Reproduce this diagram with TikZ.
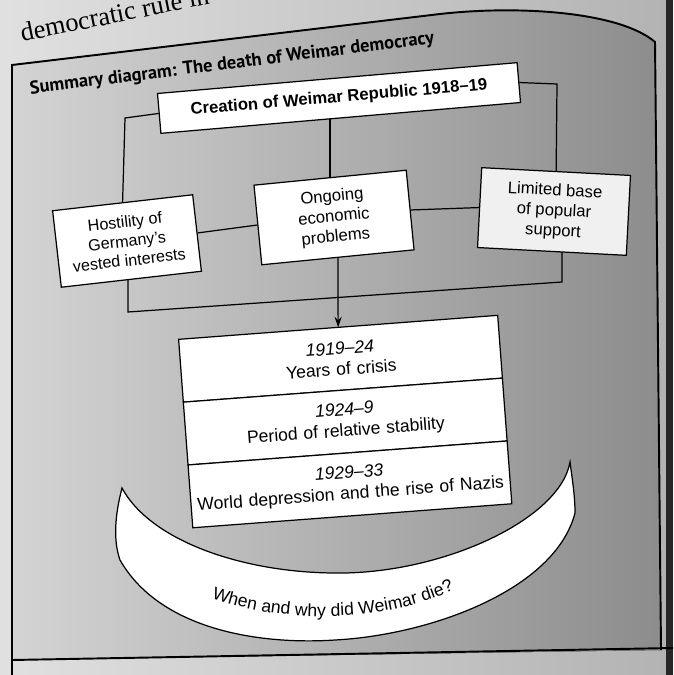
\documentclass[tikz,border=0pt]{standalone}
\usepackage{fontspec}
\setmainfont{Liberation Serif}
\setsansfont{Liberation Sans}
\newfontfamily\headfont{PT Sans}
\usetikzlibrary{positioning,arrows.meta,decorations.text}

\begin{document}
\begin{tikzpicture}[x=0.02cm,y=-0.02cm,
  box/.style={draw,fill=white,line width=0.7pt,align=center,inner sep=2pt,
    font=\sffamily\fontsize{9.5}{11.5}\selectfont},
  row/.style={box,outer sep=0pt,text width=6.26cm,minimum height=1.26cm,rotate=4.3,
    font=\sffamily\fontsize{10}{12}\selectfont},
  link/.style={line width=0.7pt}]
\useasboundingbox (0,0) rectangle (673,675);
\fill[left color=black!12,right color=black!30] (0,0) rectangle (673,675);
\fill[black!85] (666,0) rectangle (673,675);
\node[font=\fontsize{15}{17}\selectfont,rotate=11.5,anchor=base west,inner sep=0pt] (pagetext) at (22,42) {democratic rule in};
\fill[left color=black!17,right color=black!45] (12,660) -- (12,65) -- (440,14) .. controls (520,5) and (620,12) .. (655,42) -- (661,650) -- cycle;
\draw[line width=1.1pt] (12,675) -- (12,65) -- (440,14) .. controls (520,5) and (620,12) .. (655,42) -- (661,650);
\draw[line width=1.1pt] (12,660) -- (673,648);
\node[font=\headfont\bfseries\fontsize{10.5}{12}\selectfont,rotate=7.2] (title) at (232,64) {Summary diagram: The death of Weimar democracy};

\node[box,font=\sffamily\bfseries\fontsize{9.5}{11}\selectfont,minimum width=7.22cm,minimum height=0.8cm,rotate=4.9] (creation) at (339,98) {Creation of Weimar Republic 1918--19};
\node[box,font=\sffamily\fontsize{9.2}{11}\selectfont,minimum width=2.82cm,minimum height=1.54cm,rotate=6.5] (hostility) at (127,241) {Hostility of\\Germany's\\vested interests};
\node[box,minimum width=3.06cm,minimum height=1.6cm,rotate=5.6] (economy) at (334,217.5) {Ongoing\\economic\\problems};
\node[box,fill=black!6,minimum width=2.98cm,minimum height=1.6cm,rotate=-3] (support) at (554,211.5) {Limited base\\of popular\\support};

\coordinate (leftbend) at (125,118);
\coordinate (rightbend) at (557,84);
\coordinate (lowleft) at (128,312);
\coordinate (lowright) at (562,282);
\draw[link] (creation.west) -- (leftbend) -- (hostility.north);
\draw[link] (creation.east) -- (rightbend) -- (support.north);
\draw[link] (creation.south -| economy.north) -- (economy.north);
\draw[link] (hostility.east) -- (economy.west);
\draw[link] (economy.east) -- (support.west);
\draw[link] (hostility.south -| lowleft) -- (lowleft) -- (lowright) -- (support.south -| lowright);

\filldraw[fill=white,line width=0.7pt] (122,488) .. controls (115,515) and (113,540) .. (120,560)
  .. controls (160,630) and (260,645) .. (335,640) .. controls (430,635) and (555,590) .. (575,513)
  .. controls (575,495) and (572,478) .. (570,462) .. controls (560,520) and (440,575) .. (333,573)
  .. controls (240,572) and (150,540) .. (122,488) -- cycle;
\path[decorate,decoration={text along path,text align=center,
  text={|\sffamily\fontsize{10}{12}\selectfont|When and why did Weimar die?}}]
  (195,592) .. controls (275,626) and (390,626) .. (470,582);

\node[row] (crisis) at (340.5,358.75) {\textit{1919--24}\\Years of crisis};
\node[row,below=0pt of crisis] (stability) {\textit{1924--9}\\Period of relative stability};
\node[row,below=0pt of stability] (depression) {\textit{1929--33}\\World depression and the rise of Nazis};
\draw[link,-{Stealth[length=6pt,width=4pt]}] (economy.south) -- (crisis.north);
\end{tikzpicture}
\end{document}
